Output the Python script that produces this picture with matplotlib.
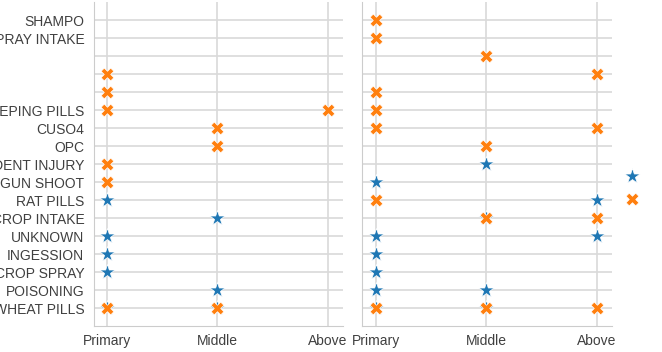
import matplotlib.pyplot as plt
import seaborn as sns

sns.set_style('whitegrid')
plt.rcParams['font.family'] = ['Liberation Sans', 'DejaVu Sans']

# y categories, top to bottom (three rows have blank labels)
causes = ['SHAMPO', 'SPRAY INTAKE', '', ' ', '  ', 'SLEEPING PILLS', 'CUSO4', 'OPC',
          'ACCIDENT INJURY', 'GUN SHOOT', 'RAT PILLS', 'CROP INTAKE', 'UNKNOWN',
          'INGESSION', 'CROP SPRAY', 'POISONING', 'WHEAT PILLS']
levels = ['Primary', 'Middle', 'Above']

# left panel
left_star_cause = ['RAT PILLS', 'CROP INTAKE', 'UNKNOWN', 'INGESSION', 'CROP SPRAY',
                   'POISONING', 'WHEAT PILLS', 'WHEAT PILLS']
left_star_level = ['Primary', 'Middle', 'Primary', 'Primary', 'Primary',
                   'Middle', 'Primary', 'Middle']
left_x_cause = [' ', '  ', 'SLEEPING PILLS', 'SLEEPING PILLS', 'CUSO4', 'OPC',
                'ACCIDENT INJURY', 'GUN SHOOT', 'WHEAT PILLS', 'WHEAT PILLS']
left_x_level = ['Primary', 'Primary', 'Primary', 'Above', 'Middle', 'Middle',
                'Primary', 'Primary', 'Primary', 'Middle']

# right panel
right_star_cause = ['ACCIDENT INJURY', 'GUN SHOOT', 'RAT PILLS', 'CROP INTAKE', 'UNKNOWN',
                    'UNKNOWN', 'INGESSION', 'CROP SPRAY', 'POISONING', 'POISONING',
                    'WHEAT PILLS', 'WHEAT PILLS']
right_star_level = ['Middle', 'Primary', 'Above', 'Middle', 'Primary',
                    'Above', 'Primary', 'Primary', 'Primary', 'Middle',
                    'Primary', 'Middle']
right_x_cause = ['SHAMPO', 'SPRAY INTAKE', '', ' ', '  ', 'SLEEPING PILLS', 'CUSO4', 'CUSO4',
                 'OPC', 'RAT PILLS', 'CROP INTAKE', 'CROP INTAKE',
                 'WHEAT PILLS', 'WHEAT PILLS', 'WHEAT PILLS']
right_x_level = ['Primary', 'Primary', 'Middle', 'Above', 'Primary', 'Primary', 'Primary', 'Above',
                 'Middle', 'Primary', 'Middle', 'Above',
                 'Primary', 'Middle', 'Above']

fig = plt.figure(figsize=(6.62, 3.52), dpi=100)
W, H = 662, 352
ax1 = fig.add_axes([94 / W, 1 - 326 / H, 249 / W, 324 / H])
ax2 = fig.add_axes([362 / W, 1 - 326 / H, 250 / W, 324 / H])


def draw(ax, sc, sl, xc, xl, xlim):
    ys = [causes.index(c) for c in sc]
    xs = [levels.index(l) for l in sl]
    ax.scatter(xs, ys, marker='*', s=135, color='#1f77b4', edgecolor='white', linewidth=0.5, zorder=3,
               label='Male')
    ys = [causes.index(c) for c in xc]
    xs = [levels.index(l) for l in xl]
    ax.scatter(xs, ys, marker='X', s=85, color='#ff7f0e', edgecolor='white', linewidth=0.5, zorder=4,
               label='Female')
    ax.set_xticks(range(len(levels)))
    ax.set_xticklabels(levels, fontsize=10, color='0.25')
    ax.set_yticks(range(len(causes)))
    ax.set_xlim(*xlim)
    ax.set_ylim(17, -1)
    ax.grid(True, color='0.85', linewidth=1.2)
    for s in ['top', 'right']:
        ax.spines[s].set_visible(False)
    for s in ['left', 'bottom']:
        ax.spines[s].set_color('0.8')
    ax.tick_params(length=0, pad=6)


draw(ax1, left_star_cause, left_star_level, left_x_cause, left_x_level, (-0.12, 2.14))
draw(ax2, right_star_cause, right_star_level, right_x_cause, right_x_level, (-0.125, 2.135))
ax1.set_yticklabels(causes, fontsize=10, color='0.25')
ax1.tick_params(axis='y', pad=7)
ax2.set_yticklabels([])

# legend labels sit past the right edge, only the markers show
h, l = ax2.get_legend_handles_labels()
fig.legend(h, l, loc='center left', bbox_to_anchor=(606 / W, 1 - 187 / H), frameon=False,
           fontsize=10, handletextpad=2.5, labelspacing=0.6)

fig.savefig('out.png', dpi=100)
